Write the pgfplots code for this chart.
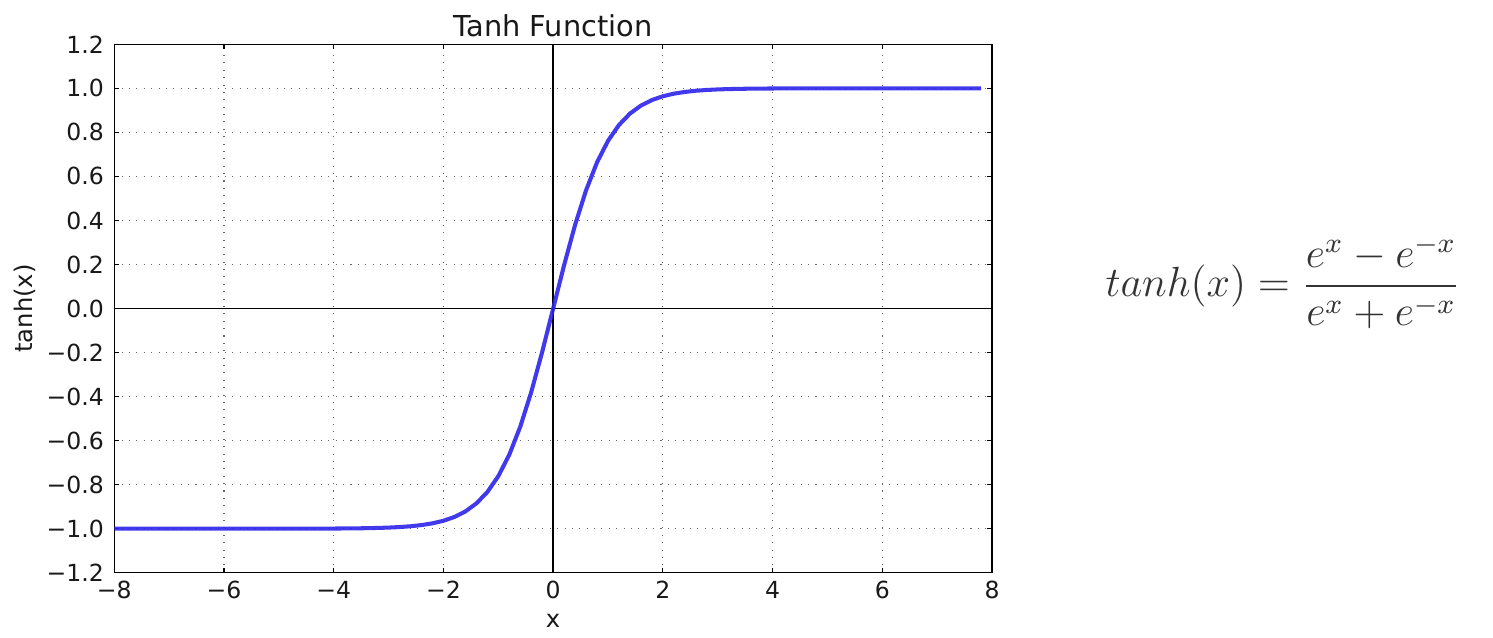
\documentclass[border=0pt]{standalone}
\usepackage{fontspec}
\setmainfont{DejaVu Sans}
\usepackage{pgfplots}
\pgfplotsset{compat=1.18}
\usepackage{pgfplotstable}

\definecolor{curveblue}{RGB}{45,35,235}
\definecolor{formulagrey}{RGB}{51,51,51}

% tanh sampled every 0.2
\pgfplotstableread{
x y
-8.0 -1.00000
-7.8 -1.00000
-7.6 -1.00000
-7.4 -1.00000
-7.2 -1.00000
-7.0 -1.00000
-6.8 -1.00000
-6.6 -1.00000
-6.4 -1.00000
-6.2 -1.00000
-6.0 -0.99999
-5.8 -0.99998
-5.6 -0.99997
-5.4 -0.99996
-5.2 -0.99994
-5.0 -0.99991
-4.8 -0.99986
-4.6 -0.99980
-4.4 -0.99970
-4.2 -0.99955
-4.0 -0.99933
-3.8 -0.99900
-3.6 -0.99851
-3.4 -0.99777
-3.2 -0.99668
-3.0 -0.99505
-2.8 -0.99263
-2.6 -0.98903
-2.4 -0.98367
-2.2 -0.97574
-2.0 -0.96403
-1.8 -0.94681
-1.6 -0.92167
-1.4 -0.88535
-1.2 -0.83365
-1.0 -0.76159
-0.8 -0.66404
-0.6 -0.53705
-0.4 -0.37995
-0.2 -0.19738
0.0 0.00000
0.2 0.19738
0.4 0.37995
0.6 0.53705
0.8 0.66404
1.0 0.76159
1.2 0.83365
1.4 0.88535
1.6 0.92167
1.8 0.94681
2.0 0.96403
2.2 0.97574
2.4 0.98367
2.6 0.98903
2.8 0.99263
3.0 0.99505
3.2 0.99668
3.4 0.99777
3.6 0.99851
3.8 0.99900
4.0 0.99933
4.2 0.99955
4.4 0.99970
4.6 0.99980
4.8 0.99986
5.0 0.99991
5.2 0.99994
5.4 0.99996
5.6 0.99997
5.8 0.99998
6.0 0.99999
6.2 1.00000
6.4 1.00000
6.6 1.00000
6.8 1.00000
7.0 1.00000
7.2 1.00000
7.4 1.00000
7.6 1.00000
7.8 1.00000
}\tanhdata

\begin{document}
\begin{tikzpicture}[x=1cm,y=1cm]
\useasboundingbox (0,0) rectangle (14.93,6.37);
\begin{axis}[
    at={(1.143cm,0.643cm)}, anchor=south west,
    scale only axis,
    width=8.777cm, height=5.284cm,
    xmin=-8, xmax=8, ymin=-1.2, ymax=1.2,
    xtick={-8,-6,...,8},
    xticklabels={−8,−6,−4,−2,0,2,4,6,8},
    ytick={-1.2,-1.0,-0.8,-0.6,-0.4,-0.2,0,0.2,0.4,0.6,0.8,1.0,1.2},
    yticklabels={−1.2,−1.0,−0.8,−0.6,−0.4,−0.2,0.0,0.2,0.4,0.6,0.8,1.0,1.2},
    tick label style={font=\fontsize{6.7}{8}\selectfont, text=black!90},
    xticklabel style={yshift=0.04cm},
    yticklabel style={xshift=0.02cm},
    tick align=inside,
    major tick length=0.05cm,
    tick style={black, line width=0.3pt},
    axis line style={black, line width=0.4pt},
    grid=major,
    major grid style={black!60, line width=0.3pt, dash pattern=on 0.3pt off 1.8pt},
    title={Tanh Function},
    title style={font=\fontsize{8.2}{10}\selectfont, text=black!90, at={(0.5,1)}, anchor=base, yshift=-0.13cm},
    xlabel={x},
    ylabel={tanh(x)},
    label style={font=\fontsize{6.9}{8}\selectfont, text=black!90},
    xlabel style={yshift=0.09cm},
    ylabel style={yshift=-0.13cm},
    clip=true,
]
\draw[black, line width=0.4pt] (axis cs:-8,0) -- (axis cs:8,0);
\draw[black, line width=0.4pt] (axis cs:0,-1.2) -- (axis cs:0,1.2);
\addplot[curveblue, line width=1.15pt, opacity=0.9] table[x=x, y=y] {\tanhdata};
\end{axis}
\node[text=formulagrey, font=\fontsize{11.5}{14}\selectfont] at (12.83,3.55)
    {$\displaystyle tanh(x)=\frac{e^{x}-e^{-x}}{e^{x}+e^{-x}}$};
\end{tikzpicture}
\end{document}
